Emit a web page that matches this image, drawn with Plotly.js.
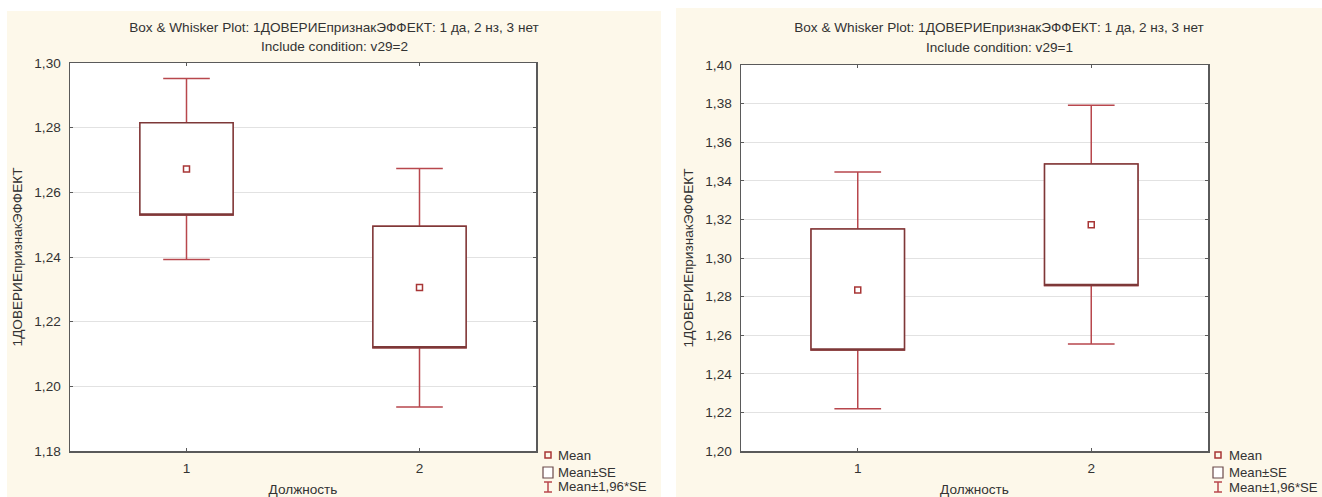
<!DOCTYPE html>
<html>
<head>
<meta charset="utf-8">
<script src="https://cdn.plot.ly/plotly-3.0.1.min.js"></script>
<style>
  html, body { margin: 0; padding: 0; background: #ffffff; width: 1322px; height: 497px; overflow: hidden; }
  #left { position: absolute; left: 7px; top: 11px; width: 654px; height: 486px; }
  #right { position: absolute; left: 676px; top: 8px; width: 646px; height: 489px; }
</style>
</head>
<body>
<div id="left"></div>
<div id="right"></div>
<script>
// ---- data ----
const positions = [1, 2];
const tickLabels = ['1', '2'];

// Include condition: v29=2
const meanA   = [1.2672, 1.2306];
const seLowA  = [1.2530, 1.2119];
const seHighA = [1.2815, 1.2495];
const ciLowA  = [1.2392, 1.1936];
const ciHighA = [1.2952, 1.2674];

// Include condition: v29=1
const meanB   = [1.2834, 1.3172];
const seLowB  = [1.2523, 1.2857];
const seHighB = [1.3150, 1.3487];
const ciLowB  = [1.2219, 1.2554];
const ciHighB = [1.3446, 1.3791];

const titleLine1 = 'Box & Whisker Plot: 1ДОВЕРИЕпризнакЭФФЕКТ: 1 да, 2 нз, 3 нет';
const yTitle = '1ДОВЕРИЕпризнакЭФФЕКТ';
const xTitle = 'Должность';
const legendLabels = ['Mean', 'Mean±SE', 'Mean±1,96*SE'];

// ---- style ----
const FONT = 'Liberation Sans, Arial, sans-serif';
const FS = 13.6;
const TXT = '#333333';
const BOXC = '#7d3838';
const WHIS = '#b8474d';
const MEANC = '#a83636';
const CREAM = '#fdf8ea';

function build(divId, W, H, m, mean, seLow, seHigh, ciLow, ciHigh, yRange, cond, leg, titleY) {
  const traces = [
    { // whiskers: Mean ± 1.96*SE
      type: 'box', x: positions, q1: seLow, median: seLow, q3: seHigh,
      lowerfence: ciLow, upperfence: ciHigh, width: 0.4, whiskerwidth: 0.5,
      line: { color: WHIS, width: 1.5 }, fillcolor: '#ffffff',
      boxpoints: false, hoverinfo: 'skip', showlegend: false
    },
    { // box: Mean ± SE
      type: 'box', x: positions, q1: seLow, median: seLow, q3: seHigh,
      lowerfence: seLow, upperfence: seHigh, width: 0.4, whiskerwidth: 0,
      line: { color: BOXC, width: 1.5 }, fillcolor: '#ffffff',
      boxpoints: false, hoverinfo: 'skip', showlegend: false
    },
    { // mean
      type: 'scatter', mode: 'markers', x: positions, y: mean,
      marker: { symbol: 'square-open', size: 6, color: MEANC, line: { width: 1.5, color: MEANC } },
      hoverinfo: 'skip', showlegend: false
    }
  ];

  const pw = W - m.l - m.r, ph = H - m.t - m.b;
  const px = x => (x - m.l) / pw;
  const py = y => 1 - (y - m.t) / ph;

  const annotations = [];
  const shapes = [];
  // subtitle line
  annotations.push({
    xref: 'paper', yref: 'paper', x: px(W / 2), y: py(titleY + 20),
    xanchor: 'center', yanchor: 'middle', showarrow: false,
    text: 'Include condition: ' + cond,
    font: { family: FONT, size: FS, color: TXT }
  });
  // legend (pixel positions within div)
  const rows = [leg.y0, leg.y0 + 17, leg.y0 + 32];
  legendLabels.forEach((lab, i) => {
    annotations.push({
      xref: 'paper', yref: 'paper', x: px(leg.tx), y: py(rows[i]),
      xanchor: 'left', yanchor: 'middle', showarrow: false, text: lab,
      font: { family: FONT, size: 13.2, color: TXT }
    });
  });
  const gx = leg.gx;
  // mean glyph
  shapes.push({ type: 'rect', xref: 'paper', yref: 'paper',
    x0: px(gx - 3), x1: px(gx + 3), y0: py(rows[0] + 3), y1: py(rows[0] - 3),
    line: { color: MEANC, width: 1.5 }, fillcolor: 'rgba(0,0,0,0)' });
  // box glyph
  shapes.push({ type: 'rect', xref: 'paper', yref: 'paper',
    x0: px(gx - 5), x1: px(gx + 5), y0: py(rows[1] + 6), y1: py(rows[1] - 5),
    line: { color: '#6b4a4a', width: 1.2 }, fillcolor: '#ffffff' });
  // whisker glyph
  shapes.push({ type: 'line', xref: 'paper', yref: 'paper',
    x0: px(gx), x1: px(gx), y0: py(rows[2] - 5), y1: py(rows[2] + 5),
    line: { color: WHIS, width: 1.5 } });
  shapes.push({ type: 'line', xref: 'paper', yref: 'paper',
    x0: px(gx - 4), x1: px(gx + 4), y0: py(rows[2] - 5), y1: py(rows[2] - 5),
    line: { color: WHIS, width: 1.5 } });
  shapes.push({ type: 'line', xref: 'paper', yref: 'paper',
    x0: px(gx - 4), x1: px(gx + 4), y0: py(rows[2] + 5), y1: py(rows[2] + 5),
    line: { color: WHIS, width: 1.5 } });

  const layout = {
    width: W, height: H,
    margin: m,
    paper_bgcolor: CREAM, plot_bgcolor: '#ffffff',
    separators: ', ',
    font: { family: FONT, size: FS, color: TXT },
    title: {
      text: titleLine1,
      xref: 'container', x: 0.5, xanchor: 'center',
      yref: 'container', y: 1 - titleY / H, yanchor: 'middle',
      font: { family: FONT, size: FS, color: TXT }
    },
    xaxis: {
      range: [0.5, 2.5], tickvals: positions, ticktext: tickLabels,
      showgrid: false, zeroline: false,
      showline: true, mirror: 'ticks', linecolor: '#5a5a5a', linewidth: 1.5,
      ticks: 'inside', ticklen: 3, tickcolor: '#5a5a5a', tickwidth: 1,
      ticklabelstandoff: 4,
      title: { text: xTitle, standoff: 9, font: { family: FONT, size: FS, color: TXT } },
      fixedrange: true
    },
    yaxis: {
      range: yRange, dtick: 0.02, tick0: 0, tickformat: '.2f',
      showgrid: true, gridcolor: '#e2e2e2', gridwidth: 1, zeroline: false,
      showline: true, mirror: 'ticks', linecolor: '#5a5a5a', linewidth: 1.5,
      ticks: 'inside', ticklen: 3, tickcolor: '#5a5a5a', tickwidth: 1,
      ticklabelstandoff: 5,
      title: { text: yTitle, standoff: 8, font: { family: FONT, size: FS, color: TXT } },
      fixedrange: true
    },
    boxmode: 'overlay',
    showlegend: false,
    annotations: annotations,
    shapes: shapes
  };
  Plotly.newPlot(divId, traces, layout, { staticPlot: true, displayModeBar: false });
}

build('left', 654, 486, { l: 63, r: 125, t: 52, b: 46, pad: 0 },
  meanA, seLowA, seHighA, ciLowA, ciHighA, [1.18, 1.30], 'v29=2',
  { y0: 444, gx: 541, tx: 549 }, 16);

build('right', 646, 489, { l: 65, r: 114, t: 57, b: 46, pad: 0 },
  meanB, seLowB, seHighB, ciLowB, ciHighB, [1.20, 1.40], 'v29=1',
  { y0: 447, gx: 542, tx: 551 }, 19);
</script>
</body>
</html>
